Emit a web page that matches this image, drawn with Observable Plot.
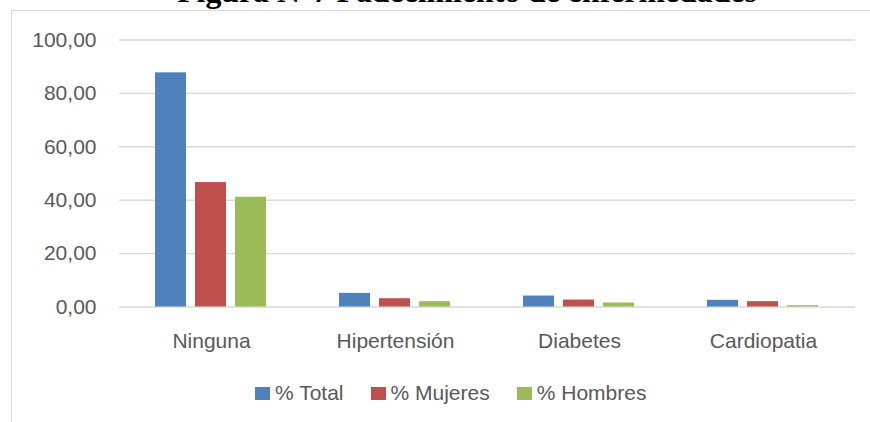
<!DOCTYPE html>
<html>
<head>
<meta charset="utf-8">
<script src="https://cdn.jsdelivr.net/npm/d3@7"></script>
<script src="https://cdn.jsdelivr.net/npm/@observablehq/plot@0.6"></script>
<style>
  html, body { margin: 0; padding: 0; background: #fff; overflow: hidden; }
  #wrap { position: relative; width: 870px; height: 422px; overflow: hidden; }
  #frame { position: absolute; left: 11px; top: 10px; width: 900px; height: 450px; border: 1.5px solid #d9d9d9; box-sizing: border-box; }
  #title { position: absolute; left: 0; width: 934px; top: -23.8px; text-align: center; font-family: "Liberation Serif", "Times New Roman", serif; font-weight: bold; font-size: 31.8px; line-height: 32px; color: #000; white-space: nowrap; }
  #chart { position: absolute; left: 0; top: 0; }
  #legend { position: absolute; left: 255px; top: 380px; height: 26px; display: flex; align-items: center; font-family: "Liberation Sans", Arial, sans-serif; font-size: 21px; color: #595959; white-space: nowrap; }
  #legend .item { display: flex; align-items: center; margin-right: 27px; }
  #legend .sw { width: 15px; height: 13px; margin-right: 5px; }
</style>
</head>
<body>
<div id="wrap">
  <div id="frame"></div>
  <div id="chart"></div>
  <div id="title">Figura N°7 Padecimiento de enfermedades</div>
  <div id="legend"></div>
</div>
<script>
const categories = ["Ninguna", "Hipertensión", "Diabetes", "Cardiopatia"];
const series = ["% Total", "% Mujeres", "% Hombres"];
const total = [87.7, 5.1, 4.1, 2.5];
const mujeres = [46.6, 3.1, 2.6, 2.0];
const hombres = [41.1, 2.0, 1.5, 0.5];
const colors = ["#4F81BD", "#C0504D", "#9BBB59"];
const yTicks = [0, 20, 40, 60, 80, 100];

const values = [total, mujeres, hombres];
const data = categories.flatMap((c, i) =>
  series.map((s, j) => ({cat: c, serie: s, v: values[j][i]}))
);

const fmt = d => d.toFixed(2).replace(".", ",");

const chart = Plot.plot({
  width: 870,
  height: 422,
  marginTop: 39.5,
  marginBottom: 115.5,
  marginLeft: 118,
  marginRight: 15,
  style: {fontFamily: "Liberation Sans, Arial, sans-serif", fontSize: "21px", color: "#595959", background: "transparent", overflow: "visible"},
  fx: {domain: categories, padding: 0, label: null},
  x: {domain: series, paddingInner: 0.22, paddingOuter: 0.857, axis: null},
  y: {domain: [0, 100], label: null},
  color: {domain: series, range: colors},
  marks: [
    Plot.gridY(yTicks, {stroke: "#d9d9d9", strokeOpacity: 1, strokeWidth: 1.4}),
    Plot.axisY(yTicks, {tickSize: 0, tickPadding: 23, tickFormat: fmt, label: null}),
    Plot.axisFx({anchor: "bottom", tickSize: 0, tickPadding: 25.6, label: null}),
    Plot.barY(data, {fx: "cat", x: "serie", y: "v", fill: "serie"})
  ]
});
document.getElementById("chart").appendChild(chart);

const legend = document.getElementById("legend");
series.forEach((s, j) => {
  const item = document.createElement("div");
  item.className = "item";
  const sw = document.createElement("span");
  sw.className = "sw";
  sw.style.background = colors[j];
  const t = document.createElement("span");
  t.textContent = s;
  item.appendChild(sw);
  item.appendChild(t);
  legend.appendChild(item);
});
</script>
</body>
</html>
